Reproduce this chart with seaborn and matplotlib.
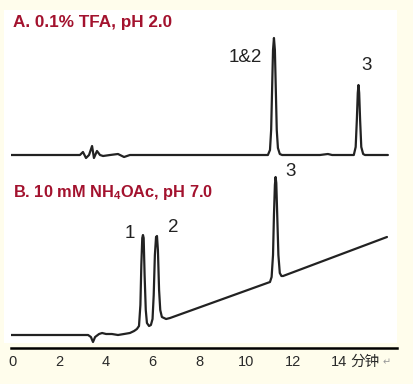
#HPLC overlay: same sample run with two mobile phases (A: TFA, B: ammonium acetate)
import matplotlib.pyplot as plt
import matplotlib.patches as patches
import numpy as np
import seaborn as sns

#trace A: 0.1% TFA, pH 2.0 (retention time in min, response in mAU)
time_a = [-0.19, 2.89, 3.02, 3.15, 3.28, 3.41, 3.49, 3.62, 3.75, 3.88, 4.18, 4.52, 4.78, 5.03,
          10.94, 11.03, 11.08, 11.12, 11.16, 11.20, 11.24, 11.28, 11.32, 11.37, 11.45, 11.55,
          13.17, 13.51, 13.69, 14.62, 14.70, 14.75, 14.79, 14.82, 14.85, 14.89, 14.94, 15.02,
          15.10, 16.08]
signal_a = [0, 0, 3, -3, 0, 9, -3, 4, 0, -1, 0, 1, -2, 0,
            0, 5, 25, 65, 105, 117, 105, 65, 25, 7, 1, 0,
            0, 1, 0, 0, 8, 35, 62, 70, 62, 35, 8, 1,
            0, 0]

#trace B: 10 mM NH4OAc, pH 7.0
time_b = [-0.10, 3.24, 3.36, 3.45, 3.54, 3.71, 3.84, 4.01, 4.26, 4.52, 4.78, 5.03, 5.21, 5.33,
          5.42, 5.48, 5.52, 5.56, 5.59, 5.62, 5.66, 5.71, 5.76, 5.85,
          5.93, 6.00, 6.05, 6.10, 6.15, 6.19, 6.23, 6.28, 6.33, 6.40, 6.58, 6.75,
          11.03, 11.10, 11.16, 11.20, 11.24, 11.27, 11.30, 11.34, 11.39, 11.45, 11.52, 11.59,
          16.04]
signal_b = [0, 0, -2, -7, -2, 1, 2, 1, 1, 0, 1, 2, 4, 6,
            9, 30, 70, 97, 100, 97, 60, 25, 12, 9,
            10, 16, 40, 80, 98, 99, 85, 45, 25, 18, 16, 17,
            53, 58, 80, 120, 150, 158, 152, 120, 80, 62, 59, 59,
            98]

#peak labels (text, time, height on the plot)
peak_text = ['1&2', '3', '1', '2', '3']
peak_time = [9.96, 15.18, 5.03, 6.88, 11.93]
peak_y = [290, 283, 115, 120, 176]

tick_values = [0, 2, 4, 6, 8, 10, 12, 14]

#vertical offsets so the two traces are stacked
offset_a = 193
offset_b = 13

sns.set_style("white")
plt.rcParams['font.family'] = ['Liberation Sans', 'Noto Sans CJK SC', 'DejaVu Sans']
plt.rcParams['mathtext.default'] = 'regular'

fig = plt.figure(figsize=(4.14, 3.84), dpi=100, facecolor='#fffdec')
#white panel behind the chart
fig.patches.append(patches.Rectangle((4/414, 1-343/384), 393/414, 333/384,
                                     transform=fig.transFigure, facecolor='white',
                                     edgecolor='none', zorder=-1))

ax = fig.add_axes([11/414, 36/384, 386/414, 338/384])
ax.set_zorder(1)
ax.patch.set_alpha(0)

line_col = '#222222'
sns.lineplot(x=time_a, y=np.array(signal_a) + offset_a, ax=ax, color=line_col, lw=1.6)
sns.lineplot(x=time_b, y=np.array(signal_b) + offset_b, ax=ax, color=line_col, lw=1.6)

ax.set_xlim(-0.062, 16.47)
ax.set_ylim(0, 338)

for s in ['top', 'right', 'left']:
    ax.spines[s].set_visible(False)
ax.spines['bottom'].set_color('black')
ax.spines['bottom'].set_linewidth(1.8)

ax.set_xticks(tick_values)
ax.set_xticklabels([str(v) for v in tick_values], fontsize=10.5, color='#2a2a2a')
ax.tick_params(axis='x', length=0, pad=5)
ax.set_yticks([])
ax.set_xlabel('')
ax.set_ylabel('')

#unit after the last tick label
ax.annotate('分钟', xy=(14, 0), xycoords=('data', 'axes fraction'), xytext=(8, -5),
            textcoords='offset points', ha='left', va='top', fontsize=10.5, color='#2a2a2a')
ax.annotate('↵', xy=(14, 0), xycoords=('data', 'axes fraction'), xytext=(31, -7),
            textcoords='offset points', ha='left', va='top', fontsize=7, color='#999999',
            family=['DejaVu Sans'])

for txt, t, y in zip(peak_text, peak_time, peak_y):
    ax.text(t, y, txt, ha='center', va='center', fontsize=13.5, color='#222222')

title_col = '#a3122e'
fig.text(13/414, 1-23/384, 'A. 0.1% TFA, pH 2.0', ha='left', va='center',
         fontsize=12.3, fontweight='bold', color=title_col)
fig.text(13/414, 1-192/384, 'B. 10 mM NH$_4$OAc, pH 7.0', ha='left', va='center',
         fontsize=11.8, fontweight='bold', color=title_col)

plt.savefig('out.png', dpi=100, facecolor=fig.get_facecolor())
